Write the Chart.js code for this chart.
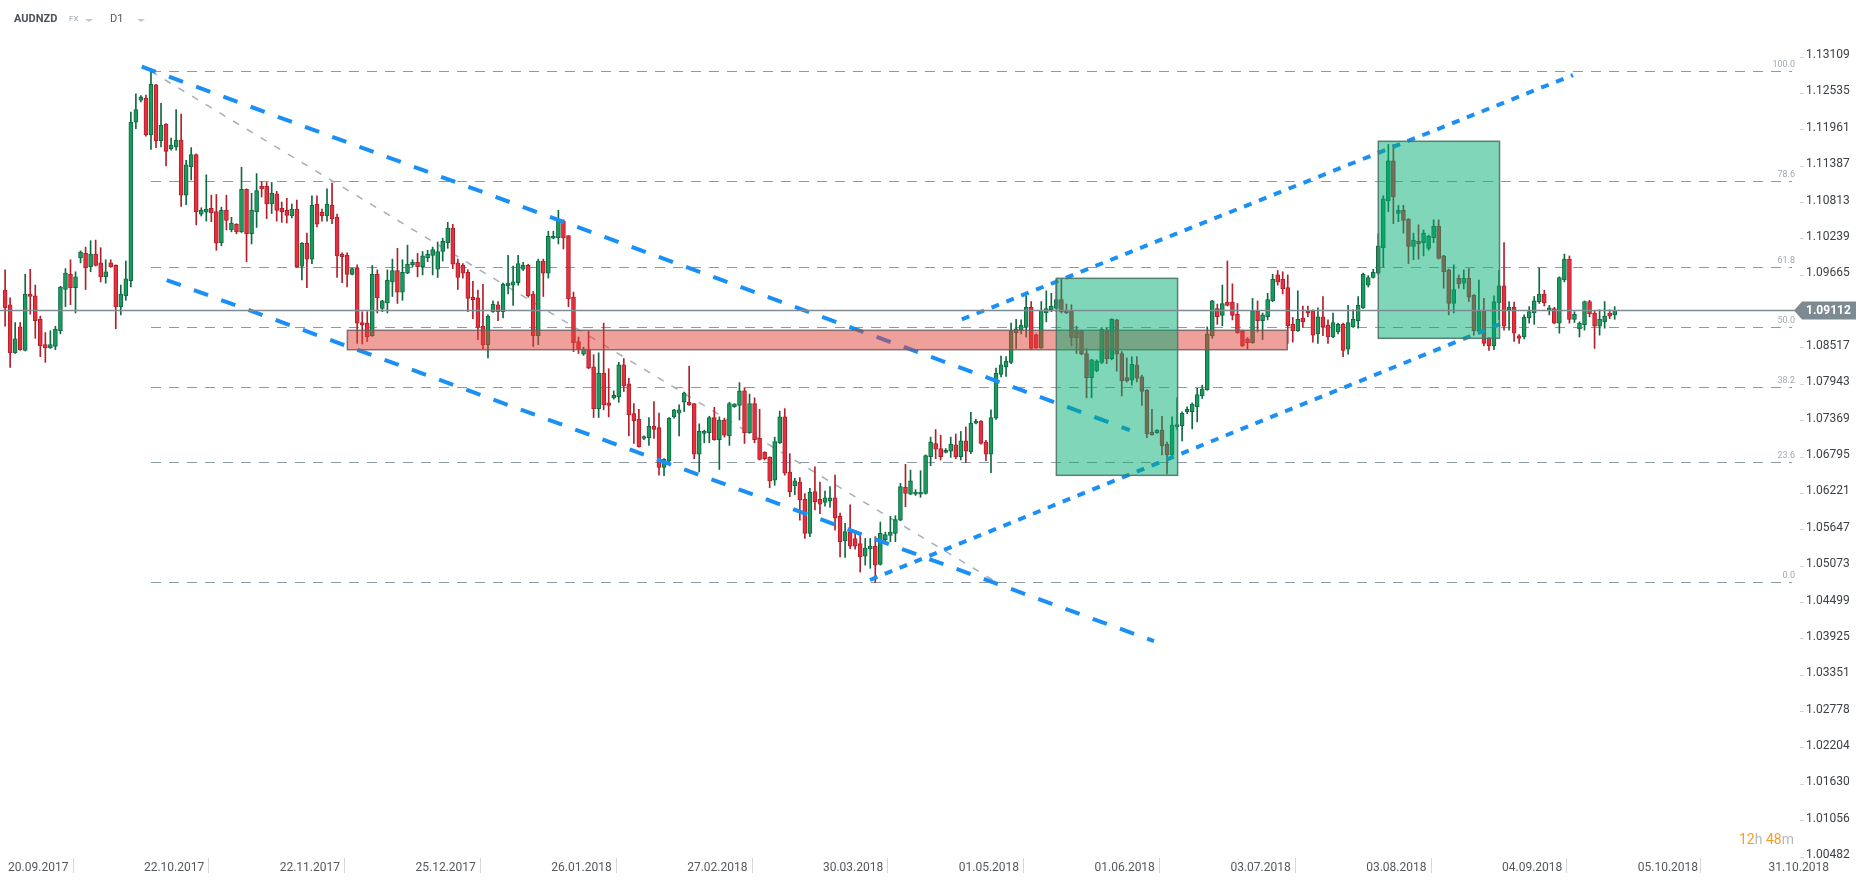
<!DOCTYPE html>
<html>
<head>
<meta charset="utf-8">
<title>AUDNZD D1</title>
<script src="https://cdn.jsdelivr.net/npm/chart.js@4.4.1/dist/chart.umd.min.js"></script>
<style>
  html, body { margin: 0; padding: 0; background: #fff; }
  #wrap { position: relative; width: 1866px; height: 885px; }
</style>
</head>
<body>
<div id="wrap"><canvas id="myChart"></canvas></div>
<script>
// daily candles, one per trading session, oldest first
const opens = [1.0943,1.0920,1.0844,1.0885,1.0848,1.0937,1.0934,1.0897,1.0857,1.0852,
  1.0854,1.0879,1.0944,1.0968,1.0947,1.0994,1.1001,1.0980,1.1000,1.0986,
  1.0964,1.0986,1.0982,1.0917,1.0934,1.0958,1.1208,1.1243,1.1246,1.1188,
  1.1267,1.1179,1.1205,1.1166,1.1169,1.1180,1.1093,1.1138,1.1157,1.1063,
  1.1066,1.1072,1.1067,1.1018,1.1069,1.1038,1.1047,1.1035,1.1102,1.1032,
  1.1067,1.1107,1.1107,1.1079,1.1095,1.1072,1.1069,1.1060,1.1071,1.0981,
  1.1017,1.0992,1.1079,1.1066,1.1060,1.1077,1.1058,1.1000,1.0998,1.0968,
  1.0978,1.0892,1.0891,1.0871,1.0968,1.0914,1.0923,1.0956,1.0974,1.0940,
  1.0970,1.0983,1.0987,1.0980,1.0994,1.0998,1.0976,1.1004,1.1018,1.1041,
  1.0986,1.0982,1.0971,1.0932,1.0931,1.0886,1.0857,1.0909,1.0920,1.0909,
  1.0950,1.0951,1.0955,1.0976,1.0982,1.0937,1.0871,1.0989,1.0970,1.1025,
  1.1026,1.1052,1.1029,1.0932,1.0862,1.0842,1.0850,1.0822,1.0756,1.0812,
  1.0765,1.0773,1.0775,1.0825,1.0795,1.0748,1.0739,1.0709,1.0710,1.0728,
  1.0726,1.0663,1.0673,1.0743,1.0749,1.0766,1.0766,1.0764,1.0684,1.0717,
  1.0718,1.0742,1.0707,1.0738,1.0713,1.0759,1.0761,1.0784,1.0718,1.0764,
  1.0709,1.0687,1.0679,1.0643,1.0702,1.0743,1.0656,1.0634,1.0640,1.0613,
  1.0559,1.0625,1.0613,1.0608,1.0610,1.0615,1.0586,1.0547,1.0562,1.0551,
  1.0543,1.0523,1.0535,1.0539,1.0510,1.0549,1.0556,1.0559,1.0580,1.0632,
  1.0621,1.0621,1.0621,1.0622,1.0680,1.0701,1.0693,1.0687,1.0689,1.0699,
  1.0680,1.0705,1.0688,1.0733,1.0736,1.0703,1.0684,1.0741,1.0810,1.0822,
  1.0829,1.0876,1.0880,1.0884,1.0916,1.0873,1.0852,1.0907,1.0912,1.0914,
  1.0928,1.0910,1.0910,1.0879,1.0878,1.0843,1.0805,1.0816,1.0829,1.0880,
  1.0835,1.0896,1.0843,1.0805,1.0801,1.0825,1.0806,1.0785,1.0719,1.0718,
  1.0722,1.0700,1.0683,1.0727,1.0729,1.0751,1.0751,1.0759,1.0776,1.0786,
  1.0871,1.0914,1.0903,1.0924,1.0924,1.0905,1.0878,1.0866,1.0860,1.0910,
  1.0895,1.0901,1.0926,1.0967,1.0960,1.0947,1.0889,1.0879,1.0899,1.0910,
  1.0910,1.0874,1.0901,1.0888,1.0869,1.0877,1.0889,1.0850,1.0885,1.0895,
  1.0915,1.0951,1.0963,1.0970,1.1010,1.1084,1.1147,1.1064,1.1069,1.1055,
  1.1012,1.1020,1.1018,1.1009,1.1026,1.1044,1.0997,1.0975,1.0922,1.0962,
  1.0954,1.0962,1.0935,1.0879,1.0910,1.0867,1.0855,1.0923,1.0950,1.0912,
  1.0916,1.0871,1.0869,1.0899,1.0907,1.0925,1.0937,1.0912,1.0914,1.0891,
  1.0959,1.0992,1.0897,1.0882,1.0888,1.0925,1.0907,1.0886,1.0893,1.0907,
  1.0904];
const highs = [1.0975,1.0931,1.0892,1.0892,1.0968,1.0976,1.0951,1.0902,1.0876,1.0879,
  1.0886,1.0949,1.0977,1.0991,1.0972,1.1005,1.1011,1.1021,1.1022,1.1010,
  1.0991,1.0991,1.0983,1.0951,1.0989,1.1224,1.1253,1.1250,1.1251,1.12884,
  1.1268,1.1238,1.1206,1.1183,1.1228,1.1221,1.1148,1.1168,1.1158,1.1073,
  1.1125,1.1093,1.1094,1.1074,1.1093,1.1058,1.1048,1.1137,1.1103,1.1096,
  1.1127,1.1114,1.1113,1.1113,1.1099,1.1082,1.1088,1.1079,1.1085,1.1018,
  1.1033,1.1092,1.1092,1.1071,1.1103,1.1112,1.1063,1.1002,1.1002,1.0978,
  1.0983,1.0909,1.0909,1.0982,1.0975,1.0927,1.0975,1.0992,1.1009,1.0991,
  1.1014,1.0991,1.1001,1.1004,1.1006,1.1011,1.1019,1.1025,1.1050,1.1047,
  1.0992,1.0985,1.0975,1.0957,1.0943,1.0952,1.0904,1.0926,1.0925,1.0954,
  1.0998,1.0981,1.0998,1.0987,1.0984,1.0941,1.0992,1.0992,1.1036,1.1036,
  1.1069,1.1054,1.1029,1.0940,1.0869,1.0853,1.0878,1.0841,1.0844,1.0891,
  1.0819,1.0784,1.0829,1.0835,1.0804,1.0764,1.0755,1.0713,1.0742,1.0767,
  1.0749,1.0677,1.0742,1.0755,1.0762,1.0782,1.0823,1.0764,1.0732,1.0722,
  1.0744,1.0758,1.0743,1.0741,1.0766,1.0764,1.0797,1.0789,1.0779,1.0773,
  1.0755,1.0688,1.0680,1.0711,1.0752,1.0756,1.0685,1.0646,1.0647,1.0622,
  1.0630,1.0664,1.0640,1.0626,1.0633,1.0651,1.0591,1.0575,1.0604,1.0564,
  1.0556,1.0551,1.0551,1.0554,1.0577,1.0561,1.0586,1.0587,1.0638,1.0668,
  1.0659,1.0628,1.0658,1.0683,1.0711,1.0723,1.0714,1.0693,1.0711,1.0716,
  1.0720,1.0727,1.0750,1.0739,1.0737,1.0706,1.0754,1.0820,1.0839,1.0838,
  1.0891,1.0897,1.0896,1.0934,1.0925,1.0874,1.0925,1.0942,1.0938,1.0960,
  1.0960,1.0921,1.0920,1.0886,1.0880,1.0851,1.0834,1.0833,1.0884,1.0883,
  1.0898,1.0897,1.0846,1.0836,1.0838,1.0838,1.0809,1.0786,1.0755,1.0723,
  1.0744,1.0703,1.0743,1.0773,1.0751,1.0759,1.0765,1.0788,1.0793,1.0885,
  1.0927,1.0921,1.0951,1.0989,1.0953,1.0922,1.0880,1.0868,1.0930,1.0926,
  1.0907,1.0938,1.0968,1.0974,1.0972,1.0967,1.0900,1.0942,1.0918,1.0918,
  1.0912,1.0915,1.0933,1.0896,1.0907,1.0891,1.0891,1.0919,1.0912,1.0933,
  1.0970,1.0966,1.0976,1.1032,1.1092,1.1173,1.1173,1.1077,1.1077,1.1056,
  1.1033,1.1046,1.1038,1.1030,1.1054,1.1054,1.0998,1.0976,1.0983,1.0967,
  1.0975,1.0977,1.0936,1.0959,1.0930,1.0868,1.0934,1.0974,1.1018,1.0925,
  1.0924,1.0873,1.0904,1.0917,1.0933,1.0978,1.0943,1.0919,1.0916,1.0964,
  1.1000,1.0997,1.0909,1.0893,1.0926,1.0927,1.0910,1.0912,1.0925,1.0912,
  1.0917];
const lows = [1.0886,1.0821,1.0843,1.0848,1.0847,1.0905,1.0867,1.0838,1.0829,1.0851,
  1.0849,1.0874,1.0917,1.0920,1.0907,1.0986,1.0944,1.0972,1.0981,1.0956,
  1.0954,1.0979,1.0882,1.0904,1.0927,1.0948,1.1198,1.1240,1.1186,1.1165,
  1.1168,1.1169,1.1139,1.1164,1.1164,1.1075,1.1078,1.1117,1.1046,1.1060,
  1.1052,1.1051,1.1006,1.1013,1.1038,1.1035,1.1032,1.1034,1.0988,1.1016,
  1.1042,1.1090,1.1056,1.1064,1.1052,1.1050,1.1049,1.1057,1.0979,1.0959,
  1.0947,1.0985,1.1043,1.1052,1.1052,1.1048,1.0963,1.0955,1.0948,1.0967,
  1.0859,1.0858,1.0862,1.0870,1.0907,1.0909,1.0907,1.0933,1.0922,1.0927,
  1.0969,1.0980,1.0964,1.0967,1.0988,1.0967,1.0963,1.0989,1.1009,1.0977,
  1.0944,1.0962,1.0909,1.0898,1.0865,1.0850,1.0836,1.0908,1.0895,1.0899,
  1.0937,1.0919,1.0951,1.0974,1.0932,1.0854,1.0857,1.0933,1.0962,1.1024,
  1.1016,1.1008,1.0917,1.0846,1.0843,1.0840,1.0819,1.0742,1.0742,1.0754,
  1.0743,1.0771,1.0766,1.0783,1.0713,1.0701,1.0695,1.0707,1.0698,1.0709,
  1.0651,1.0650,1.0672,1.0741,1.0713,1.0751,1.0761,1.0677,1.0656,1.0702,
  1.0702,1.0706,1.0660,1.0711,1.0698,1.0758,1.0738,1.0701,1.0717,1.0702,
  1.0675,1.0675,1.0631,1.0635,1.0701,1.0651,1.0617,1.0620,1.0580,1.0551,
  1.0554,1.0596,1.0590,1.0602,1.0600,1.0564,1.0522,1.0521,1.0535,1.0534,
  1.0498,1.0509,1.0504,1.04816,1.0509,1.0546,1.0546,1.0546,1.0579,1.0601,
  1.0620,1.0619,1.0616,1.0621,1.0666,1.0677,1.0675,1.0686,1.0679,1.0677,
  1.0675,1.0671,1.0685,1.0732,1.0700,1.0674,1.0655,1.0739,1.0806,1.0807,
  1.0827,1.0851,1.0874,1.0869,1.0850,1.0851,1.0851,1.0893,1.0909,1.0909,
  1.0907,1.0906,1.0855,1.0843,1.0841,1.0773,1.0773,1.0814,1.0827,1.0827,
  1.0833,1.0815,1.0776,1.0798,1.0793,1.0798,1.0761,1.0710,1.0714,1.0717,
  1.0683,1.0653,1.0682,1.0723,1.0705,1.0748,1.0724,1.0735,1.0772,1.0785,
  1.0867,1.0889,1.0887,1.0918,1.0896,1.0875,1.0854,1.0850,1.0859,1.0877,
  1.0865,1.0896,1.0925,1.0951,1.0937,1.0859,1.0861,1.0878,1.0884,1.0901,
  1.0861,1.0859,1.0871,1.0859,1.0868,1.0874,1.0838,1.0842,1.0884,1.0883,
  1.0914,1.0948,1.0962,1.0968,1.0979,1.1067,1.1048,1.1051,1.1033,1.0985,
  1.0991,1.0992,1.0997,1.1006,1.1018,1.0992,1.0946,1.0904,1.0907,1.0946,
  1.0945,1.0925,1.0872,1.0874,1.0855,1.0848,1.0849,1.0896,1.0880,1.0880,
  1.0862,1.0859,1.0866,1.0891,1.0889,1.0922,1.0918,1.0904,1.0890,1.0875,
  1.0956,1.0891,1.0892,1.0869,1.0880,1.0901,1.0851,1.0872,1.0883,1.0898,
  1.0897];
const closes = [1.0915,1.0844,1.0866,1.0849,1.0937,1.0933,1.0895,1.0855,1.0852,1.0857,
  1.0881,1.0948,1.0970,1.0947,1.0964,1.1003,1.0978,1.1000,1.0982,1.0964,
  1.0972,1.0980,1.0917,1.0937,1.0961,1.1208,1.1228,1.1248,1.1188,1.1268,
  1.1179,1.1203,1.1162,1.1172,1.1180,1.1093,1.1141,1.1157,1.1067,1.1069,
  1.1071,1.1065,1.1017,1.1069,1.1053,1.1049,1.1035,1.1102,1.1032,1.1069,
  1.1100,1.1103,1.1079,1.1096,1.1069,1.1067,1.1061,1.1071,1.0980,1.1017,
  1.0992,1.1077,1.1047,1.1060,1.1079,1.1056,1.0997,1.0996,1.0968,1.0977,
  1.0891,1.0888,1.0869,1.0968,1.0931,1.0926,1.0959,1.0974,1.0940,1.0971,
  1.0984,1.0987,1.0980,1.0997,1.1000,1.1007,1.1004,1.1020,1.1041,1.0984,
  1.0963,1.0970,1.0930,1.0928,1.0884,1.0857,1.0902,1.0921,1.0909,1.0952,
  1.0954,1.0956,1.0985,1.0982,1.0934,1.0871,1.0989,1.0970,1.1028,1.1028,
  1.1052,1.1026,1.0929,1.0860,1.0850,1.0850,1.0820,1.0756,1.0812,1.0762,
  1.0761,1.0777,1.0825,1.0792,1.0746,1.0737,1.0696,1.0712,1.0728,1.0723,
  1.0663,1.0676,1.0741,1.0754,1.0754,1.0781,1.0762,1.0684,1.0720,1.0720,
  1.0742,1.0707,1.0738,1.0714,1.0764,1.0763,1.0784,1.0718,1.0764,1.0707,
  1.0676,1.0677,1.0642,1.0704,1.0743,1.0654,1.0625,1.0642,1.0612,1.0559,
  1.0624,1.0609,1.0605,1.0615,1.0615,1.0583,1.0546,1.0562,1.0539,1.0539,
  1.0522,1.0536,1.0539,1.0509,1.0559,1.0557,1.0561,1.0581,1.0633,1.0622,
  1.0642,1.0624,1.0624,1.0682,1.0703,1.0692,1.0680,1.0690,1.0700,1.0680,
  1.0705,1.0689,1.0733,1.0736,1.0701,1.0684,1.0742,1.0812,1.0825,1.0831,
  1.0879,1.0882,1.0888,1.0916,1.0851,1.0852,1.0911,1.0914,1.0918,1.0928,
  1.0909,1.0907,1.0868,1.0868,1.0842,1.0805,1.0833,1.0831,1.0881,1.0835,
  1.0897,1.0842,1.0800,1.0800,1.0826,1.0804,1.0783,1.0716,1.0715,1.0722,
  1.0697,1.0683,1.0730,1.0731,1.0749,1.0755,1.0763,1.0778,1.0787,1.0874,
  1.0926,1.0901,1.0922,1.0919,1.0903,1.0876,1.0855,1.0860,1.0910,1.0895,
  1.0904,1.0928,1.0960,1.0956,1.0945,1.0887,1.0879,1.0897,1.0893,1.0907,
  1.0872,1.0901,1.0885,1.0869,1.0892,1.0889,1.0848,1.0892,1.0897,1.0919,
  1.0968,1.0963,1.0971,1.1013,1.1087,1.1147,1.1090,1.1069,1.1053,1.1012,
  1.1022,1.1016,1.1033,1.1028,1.1044,1.0993,1.0972,1.0922,1.0944,1.0953,
  1.0962,1.0932,1.0879,1.0910,1.0859,1.0855,1.0925,1.0950,1.0886,1.0916,
  1.0875,1.0867,1.0900,1.0909,1.0926,1.0937,1.0923,1.0915,1.0891,1.0963,
  1.0992,1.0897,1.0905,1.0891,1.0925,1.0906,1.0886,1.0897,1.0902,1.0902,
  1.09112];

// axis ticks
const xTickIdx = [0, 27, 54, 81, 108, 135, 162, 189, 216, 243, 270, 297, 324, 350];
const xTickLabels = ['20.09.2017', '22.10.2017', '22.11.2017', '25.12.2017', '26.01.2018', '27.02.2018',
  '30.03.2018', '01.05.2018', '01.06.2018', '03.07.2018', '03.08.2018', '04.09.2018', '05.10.2018', '31.10.2018'];
const yTicks = [1.13109, 1.12535, 1.11961, 1.11387, 1.10813, 1.10239, 1.09665, 1.09091, 1.08517, 1.07943,
  1.07369, 1.06795, 1.06221, 1.05647, 1.05073, 1.04499, 1.03925, 1.03351, 1.02778, 1.02204,
  1.01630, 1.01056, 1.00482];

// drawings: [candle index, price]
const fibLevels = [0, 23.6, 38.2, 50, 61.8, 78.6, 100];
const fibStartIdx = 29, fibDiagEndIdx = 197.2, fibEndIdx = 355.25;
const channelLines = [[[27.16, 1.12957], [223.6, 1.07222]], [[32.13, 1.09589], [228.4, 1.03889]]];
const risingLines = [[[190.2, 1.08968], [311.7, 1.12826]], [[171.95, 1.04855], [297.2, 1.08894]]];
const supportZone = [[68.05, 1.08796], [254.9, 1.08490]];
const greenZones = [[[209.0, 1.09617], [233.1, 1.06507]], [[273.0, 1.1178], [297.1, 1.0867]]];
const lastPrice = 1.09112;
const symbol = 'AUDNZD', market = 'FX', interval = 'D1';
const countdown = [['12', '#f4a019'], ['h ', '#b4b9bd'], ['48', '#f4a019'], ['m', '#b4b9bd']];

const UP = '#1b9a5f', UP_EDGE = '#0e6a40', DOWN = '#e5303d', DOWN_EDGE = '#b21f2b';
const isUp = i => closes[i] >= opens[i];

const wickData = opens.map((o, i) => ({ x: i, y: [lows[i], highs[i]] }));
const bodyData = opens.map((o, i) => ({ x: i, y: [Math.min(o, closes[i]), Math.max(o, closes[i])] }));

function tri(ctx, x, y, c) {
  ctx.fillStyle = c;
  ctx.beginPath(); ctx.moveTo(x, y); ctx.lineTo(x + 8, y); ctx.lineTo(x + 4, y + 3); ctx.closePath(); ctx.fill();
}

const drawLayers = {
  id: 'drawLayers',
  beforeDatasetsDraw(chart) {
    const { ctx, scales: { x, y } } = chart;
    const hi = Math.max(...highs), lo = Math.min(...lows);
    const fx0 = x.getPixelForValue(fibStartIdx), fx1 = x.getPixelForValue(fibEndIdx);
    ctx.save();
    ctx.lineWidth = 1.2;
    ctx.setLineDash([10, 8]);
    ctx.font = '9px Roboto';
    ctx.textAlign = 'right';
    fibLevels.forEach(lv => {
      const py = Math.round(y.getPixelForValue(lo + (hi - lo) * lv / 100)) + 0.5;
      ctx.strokeStyle = '#8d9ba4';
      ctx.beginPath(); ctx.moveTo(fx0, py); ctx.lineTo(fx1, py); ctx.stroke();
      ctx.fillStyle = '#9ea9b0';
      ctx.fillText(lv.toFixed(1), fx1 + 3, py - 5);
    });
    ctx.setLineDash([7, 9]);
    ctx.strokeStyle = '#a6b0b7';
    ctx.lineWidth = 1.5;
    ctx.beginPath();
    ctx.moveTo(fx0, y.getPixelForValue(hi));
    ctx.lineTo(x.getPixelForValue(fibDiagEndIdx), y.getPixelForValue(lo));
    ctx.stroke();
    ctx.restore();
  },
  afterDatasetsDraw(chart) {
    const { ctx, chartArea, scales: { x, y } } = chart;
    const px = p => [x.getPixelForValue(p[0]), y.getPixelForValue(p[1])];
    ctx.save();
    ctx.strokeStyle = '#1a8ff5';
    ctx.lineWidth = 4;
    const line = (seg, dash) => {
      const a = px(seg[0]), b = px(seg[1]);
      ctx.setLineDash(dash);
      ctx.beginPath(); ctx.moveTo(a[0], a[1]); ctx.lineTo(b[0], b[1]); ctx.stroke();
    };
    channelLines.forEach(s => line(s, [15, 14]));
    risingLines.forEach(s => line(s, [8, 8]));
    ctx.setLineDash([]);
    ctx.lineWidth = 1.5;
    const box = (seg, fill, edge) => {
      const a = px(seg[0]), b = px(seg[1]);
      ctx.fillStyle = fill;
      ctx.strokeStyle = edge;
      ctx.fillRect(a[0], a[1], b[0] - a[0], b[1] - a[1]);
      ctx.strokeRect(a[0], a[1], b[0] - a[0], b[1] - a[1]);
    };
    box(supportZone, 'rgba(226,66,56,0.5)', 'rgba(112,96,96,0.85)');
    greenZones.forEach(z => box(z, 'rgba(0,174,114,0.5)', 'rgba(78,118,104,0.9)'));
    // last price line
    const ly = Math.round(y.getPixelForValue(lastPrice)) + 0.5;
    ctx.strokeStyle = '#7f8b92';
    ctx.lineWidth = 1.3;
    ctx.beginPath(); ctx.moveTo(chartArea.left, ly); ctx.lineTo(chartArea.right - 5, ly); ctx.stroke();
    ctx.restore();
  },
  afterDraw(chart) {
    const { ctx, chartArea, scales: { y } } = chart;
    ctx.save();
    // last price tag
    const ly = Math.round(y.getPixelForValue(lastPrice)) + 0.5;
    const tx = chartArea.right - 6;
    ctx.fillStyle = '#7d8a91';
    ctx.beginPath();
    ctx.moveTo(tx, ly);
    ctx.lineTo(tx + 8, ly - 9);
    ctx.lineTo(tx + 62, ly - 9);
    ctx.lineTo(tx + 62, ly + 9);
    ctx.lineTo(tx + 8, ly + 9);
    ctx.closePath();
    ctx.fill();
    ctx.fillStyle = '#ffffff';
    ctx.font = 'bold 12px Roboto';
    ctx.textBaseline = 'middle';
    ctx.textAlign = 'left';
    ctx.fillText(lastPrice.toFixed(5), tx + 12, ly + 0.5);
    // header
    ctx.textBaseline = 'middle';
    ctx.font = 'bold 11px Roboto';
    ctx.fillStyle = '#49545d';
    ctx.fillText(symbol, 14, 19);
    ctx.font = '8px Roboto';
    ctx.fillStyle = '#95a1a9';
    ctx.fillText(market, 69, 19);
    tri(ctx, 85, 19, '#c3c8cc');
    ctx.font = '11px Roboto';
    ctx.fillStyle = '#525b61';
    ctx.fillText(interval, 110, 19);
    tri(ctx, 137, 19, '#c3c8cc');
    // candle countdown
    ctx.font = '14px Roboto';
    ctx.textBaseline = 'alphabetic';
    let cx = 1739;
    countdown.forEach(([t, c]) => {
      ctx.fillStyle = c;
      ctx.fillText(t, cx, 844);
      cx += ctx.measureText(t).width;
    });
    ctx.restore();
  }
};

Chart.defaults.font.family = 'Roboto';
const ctx = document.getElementById('myChart').getContext('2d');
const myChart = new Chart(ctx, {
  type: 'bar',
  data: {
    datasets: [{
      label: 'wick',
      data: wickData,
      backgroundColor: c => isUp(c.dataIndex) ? UP_EDGE : DOWN_EDGE,
      barThickness: 1,
      grouped: false,
      order: 2,
    }, {
      label: 'body',
      data: bodyData,
      backgroundColor: c => isUp(c.dataIndex) ? UP : DOWN,
      borderColor: c => isUp(c.dataIndex) ? UP_EDGE : DOWN_EDGE,
      borderWidth: 1,
      borderSkipped: false,
      barThickness: 4,
      minBarLength: 1,
      grouped: false,
      order: 1,
    }],
  },
  options: {
    responsive: true,
    maintainAspectRatio: false,
    animation: false,
    events: [],
    layout: { padding: 0 },
    plugins: { legend: { display: false }, tooltip: { enabled: false } },
    scales: {
      x: {
        type: 'linear',
        min: -1.014,
        max: 356.84,
        offset: false,
        afterBuildTicks: s => { s.ticks = xTickIdx.map(v => ({ value: v })); },
        afterFit: s => { s.height = 27; s.paddingLeft = 0; s.paddingRight = 0; },
        border: { display: false },
        grid: { drawOnChartArea: false, drawTicks: true, tickLength: 15, color: '#d4d8db' },
        ticks: {
          autoSkip: false, maxRotation: 0, align: 'start', labelOffset: 3, padding: -12,
          color: '#54595d', font: { size: 12 },
          callback: (v, i) => xTickLabels[i],
        },
      },
      y: {
        position: 'right',
        min: 1.004664,
        max: 1.140102,
        afterBuildTicks: s => { s.ticks = yTicks.map(v => ({ value: v })); },
        afterFit: s => { s.width = 66; s.paddingTop = 0; s.paddingBottom = 0; },
        border: { display: false },
        grid: { drawOnChartArea: false, drawTicks: true, tickLength: 4, color: '#cfd4d7' },
        ticks: {
          padding: 2, labelOffset: -2, color: '#3b4146', font: { size: 12 },
          callback: v => v.toFixed(5),
        },
      },
    },
  },
  plugins: [drawLayers],
});
</script>
</body>
</html>
